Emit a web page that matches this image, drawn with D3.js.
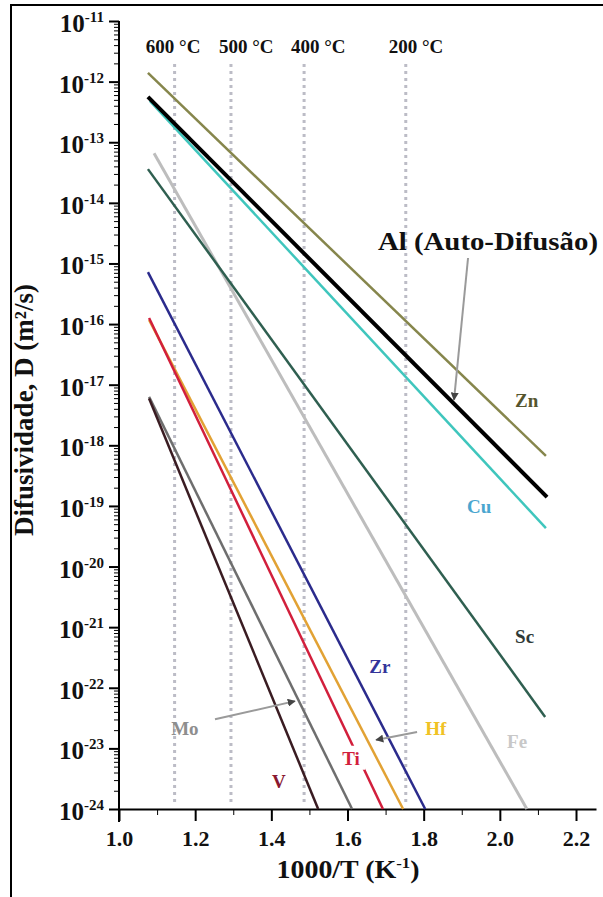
<!DOCTYPE html>
<html>
<head>
<meta charset="utf-8">
<script src="https://cdn.jsdelivr.net/npm/d3@7"></script>
<style>
  body { margin: 0; background: #fff; }
</style>
</head>
<body>
<div id="chart"></div>
<script>
// series: straight Arrhenius lines, start / end points
const elements = ["Fe", "Sc", "Cu", "Zn", "Al", "Hf", "Ti", "Zr", "Mo", "V"];
const xStart = [1.092, 1.076, 1.081, 1.076, 1.076, 1.079, 1.079, 1.076, 1.079, 1.079];
const dStart = [6.6e-14, 3.6e-14, 4.8e-13, 1.39e-12, 5.6e-13, 1.17e-16, 1.26e-16, 7.2e-16, 6.3e-18, 5.9e-18];
const xEnd = [2.071, 2.119, 2.121, 2.121, 2.124, 1.746, 1.693, 1.804, 1.612, 1.523];
const dEnd = [1e-24, 3.3e-23, 4.3e-20, 6.7e-19, 1.4e-19, 1e-24, 1e-24, 1e-24, 1e-24, 1e-24];
const colors = ["#bdbdbd", "#2f5f50", "#3fc6bd", "#86864c", "#000000", "#e2a234", "#d21f3c", "#2b2b8c", "#6e6e6e", "#3a1c22"];
const widths = [3, 2.5, 2.5, 2.5, 4, 2.5, 2.5, 2.5, 2.5, 2.5];

// temperature guide lines and their captions
const tempLabels = ["600 °C", "500 °C", "400 °C", "200 °C"];
const tempX = [1.146, 1.294, 1.486, 1.753];
const tempLabelX = [1.142, 1.334, 1.523, 1.780];

// tick values
const xMajor = [1.0, 1.2, 1.4, 1.6, 1.8, 2.0, 2.2];
const xMinor = [1.1, 1.3, 1.5, 1.7, 1.9, 2.1];
const yExponents = d3.range(-11, -25, -1);

// text labels next to lines (x in 1000/T, y in log10 D)
const labelText = ["Zn", "Cu", "Sc", "Zr", "Hf", "Fe", "Ti", "V", "Mo"];
const labelX = [2.040, 1.914, 2.040, 1.657, 1.804, 2.019, 1.586, 1.402, 1.137];
const labelLogD = [-17.37, -19.12, -21.26, -21.76, -22.78, -22.99, -23.27, -23.65, -22.78];
const labelColor = ["#55552e", "#4aa6cf", "#2f3a38", "#34349a", "#f0c224", "#c8c8c8", "#d21f3c", "#8a1830", "#8e8e8e"];

const FONT = "Liberation Serif";
const width = 603, height = 897;
const svg = d3.select("#chart").append("svg")
  .attr("width", width).attr("height", height);

// outer frame
svg.append("rect")
  .attr("x", 11).attr("y", 5).attr("width", 700).attr("height", 1000)
  .attr("fill", "none").attr("stroke", "#000").attr("stroke-width", 2);

const x = d3.scaleLinear().domain([1.0, 2.2525]).range([119, 596]);
const y = d3.scaleLog().domain([1e-24, 1e-11]).range([809, 21]);

// dotted temperature lines
svg.append("g").selectAll("line")
  .data(tempX)
  .join("line")
    .attr("x1", d => x(d)).attr("x2", d => x(d))
    .attr("y1", 64).attr("y2", 806)
    .attr("stroke", "#bcbcc6").attr("stroke-width", 3)
    .attr("stroke-dasharray", "3,4");

svg.append("g").selectAll("text")
  .data(tempLabels)
  .join("text")
    .attr("x", (d, i) => x(tempLabelX[i]))
    .attr("y", 53)
    .attr("text-anchor", "middle")
    .attr("font-family", FONT).attr("font-weight", "bold")
    .attr("font-size", "19px")
    .attr("fill", "#111")
    .text(d => d);

// x axis
svg.append("g")
  .attr("transform", `translate(0,${y(1e-24)})`)
  .call(d3.axisBottom(x).tickValues(xMinor).tickSize(6).tickSizeOuter(0).tickFormat(""))
  .call(g => g.select(".domain").attr("stroke-width", 2));

const xAx = svg.append("g")
  .attr("transform", `translate(0,${y(1e-24)})`)
  .call(d3.axisBottom(x).tickValues(xMajor).tickSize(12).tickSizeOuter(0).tickFormat(d3.format(".1f")));
xAx.select(".domain").remove();
xAx.selectAll("line").attr("stroke-width", 2);
xAx.selectAll("text")
  .attr("font-family", FONT).attr("font-weight", "bold")
  .attr("font-size", "22px").attr("fill", "#111")
  .attr("dy", "1.0em");

// y axis, minor then major ticks
const yMinor = [];
yExponents.slice(1).forEach(e => {
  for (let k = 2; k <= 9; k++) yMinor.push(k * Math.pow(10, e));
});
svg.append("g")
  .attr("transform", `translate(${x(1.0)},0)`)
  .call(d3.axisLeft(y).tickValues(yMinor).tickSize(5).tickSizeOuter(0).tickFormat(""))
  .call(g => g.select(".domain").attr("stroke-width", 2).attr("d", `M0,${y(1e-11)}V822`));

const yAx = svg.append("g")
  .attr("transform", `translate(${x(1.0)},0)`)
  .call(d3.axisLeft(y).tickValues(yExponents.map(e => Math.pow(10, e))).tickSize(10).tickFormat(""));
yAx.select(".domain").remove();
yAx.selectAll("line").attr("stroke-width", 2);

svg.append("g").selectAll("text")
  .data(yExponents)
  .join("text")
    .attr("x", 104)
    .attr("y", d => y(Math.pow(10, d)) + 11)
    .attr("text-anchor", "end")
    .attr("font-family", FONT).attr("font-weight", "bold")
    .attr("font-size", "25px")
    .attr("fill", "#111")
    .each(function(d) {
      const t = d3.select(this);
      t.append("tspan").text("10");
      t.append("tspan").attr("font-size", "15px").attr("dy", -10).text(String(d));
    });

// axis titles
svg.append("text")
  .attr("x", 348).attr("y", 878)
  .attr("text-anchor", "middle")
  .attr("font-family", FONT).attr("font-weight", "bold")
  .attr("font-size", "25px").attr("fill", "#111")
  .attr("textLength", 143).attr("lengthAdjust", "spacingAndGlyphs")
  .html('1000/T (K<tspan font-size="15px" dy="-10">-1</tspan><tspan dy="10">)</tspan>');

svg.append("text")
  .attr("transform", "translate(33,410) rotate(-90)")
  .attr("text-anchor", "middle")
  .attr("font-family", FONT).attr("font-weight", "bold")
  .attr("font-size", "27px").attr("fill", "#111")
  .text("Difusividade, D (m²/s)");

// diffusion lines
svg.append("g").selectAll("line")
  .data(elements)
  .join("line")
    .attr("x1", (d, i) => x(xStart[i]))
    .attr("y1", (d, i) => y(dStart[i]))
    .attr("x2", (d, i) => x(xEnd[i]))
    .attr("y2", (d, i) => y(dEnd[i]))
    .attr("stroke", (d, i) => colors[i])
    .attr("stroke-width", (d, i) => widths[i]);

// arrows
svg.append("defs").append("marker")
  .attr("id", "head").attr("viewBox", "0 0 10 10")
  .attr("refX", 9).attr("refY", 5)
  .attr("markerWidth", 4).attr("markerHeight", 4)
  .attr("orient", "auto")
  .append("path").attr("d", "M0,0L10,5L0,10z").attr("fill", "#444");

const arrows = [
  [1.9165, -14.91, 1.8797, -17.25],
  [1.252, -22.52, 1.462, -22.22],
  [1.7826, -22.73, 1.675, -22.86]
];
svg.append("g").selectAll("line")
  .data(arrows)
  .join("line")
    .attr("x1", d => x(d[0])).attr("y1", d => y(Math.pow(10, d[1])))
    .attr("x2", d => x(d[2])).attr("y2", d => y(Math.pow(10, d[3])))
    .attr("stroke", "#9a9a9a").attr("stroke-width", 2)
    .attr("marker-end", "url(#head)");

// line labels (white box behind so Ti breaks its line)
const lab = svg.append("g").selectAll("g")
  .data(labelText)
  .join("g")
    .attr("transform", (d, i) => `translate(${x(labelX[i])},${y(Math.pow(10, labelLogD[i]))})`);
lab.filter(d => d === "Ti").append("rect")
  .attr("x", -1).attr("y", -19).attr("width", 24).attr("height", 24).attr("fill", "#fff");
lab.append("text")
  .attr("font-family", FONT).attr("font-weight", "bold")
  .attr("font-size", "19px")
  .attr("fill", (d, i) => labelColor[i])
  .text(d => d);

svg.append("text")
  .attr("x", x(1.680)).attr("y", y(Math.pow(10, -14.78)))
  .attr("font-family", FONT).attr("font-weight", "bold")
  .attr("font-size", "25px").attr("fill", "#111")
  .attr("textLength", 220).attr("lengthAdjust", "spacingAndGlyphs")
  .text("Al (Auto-Difusão)");
</script>
</body>
</html>
